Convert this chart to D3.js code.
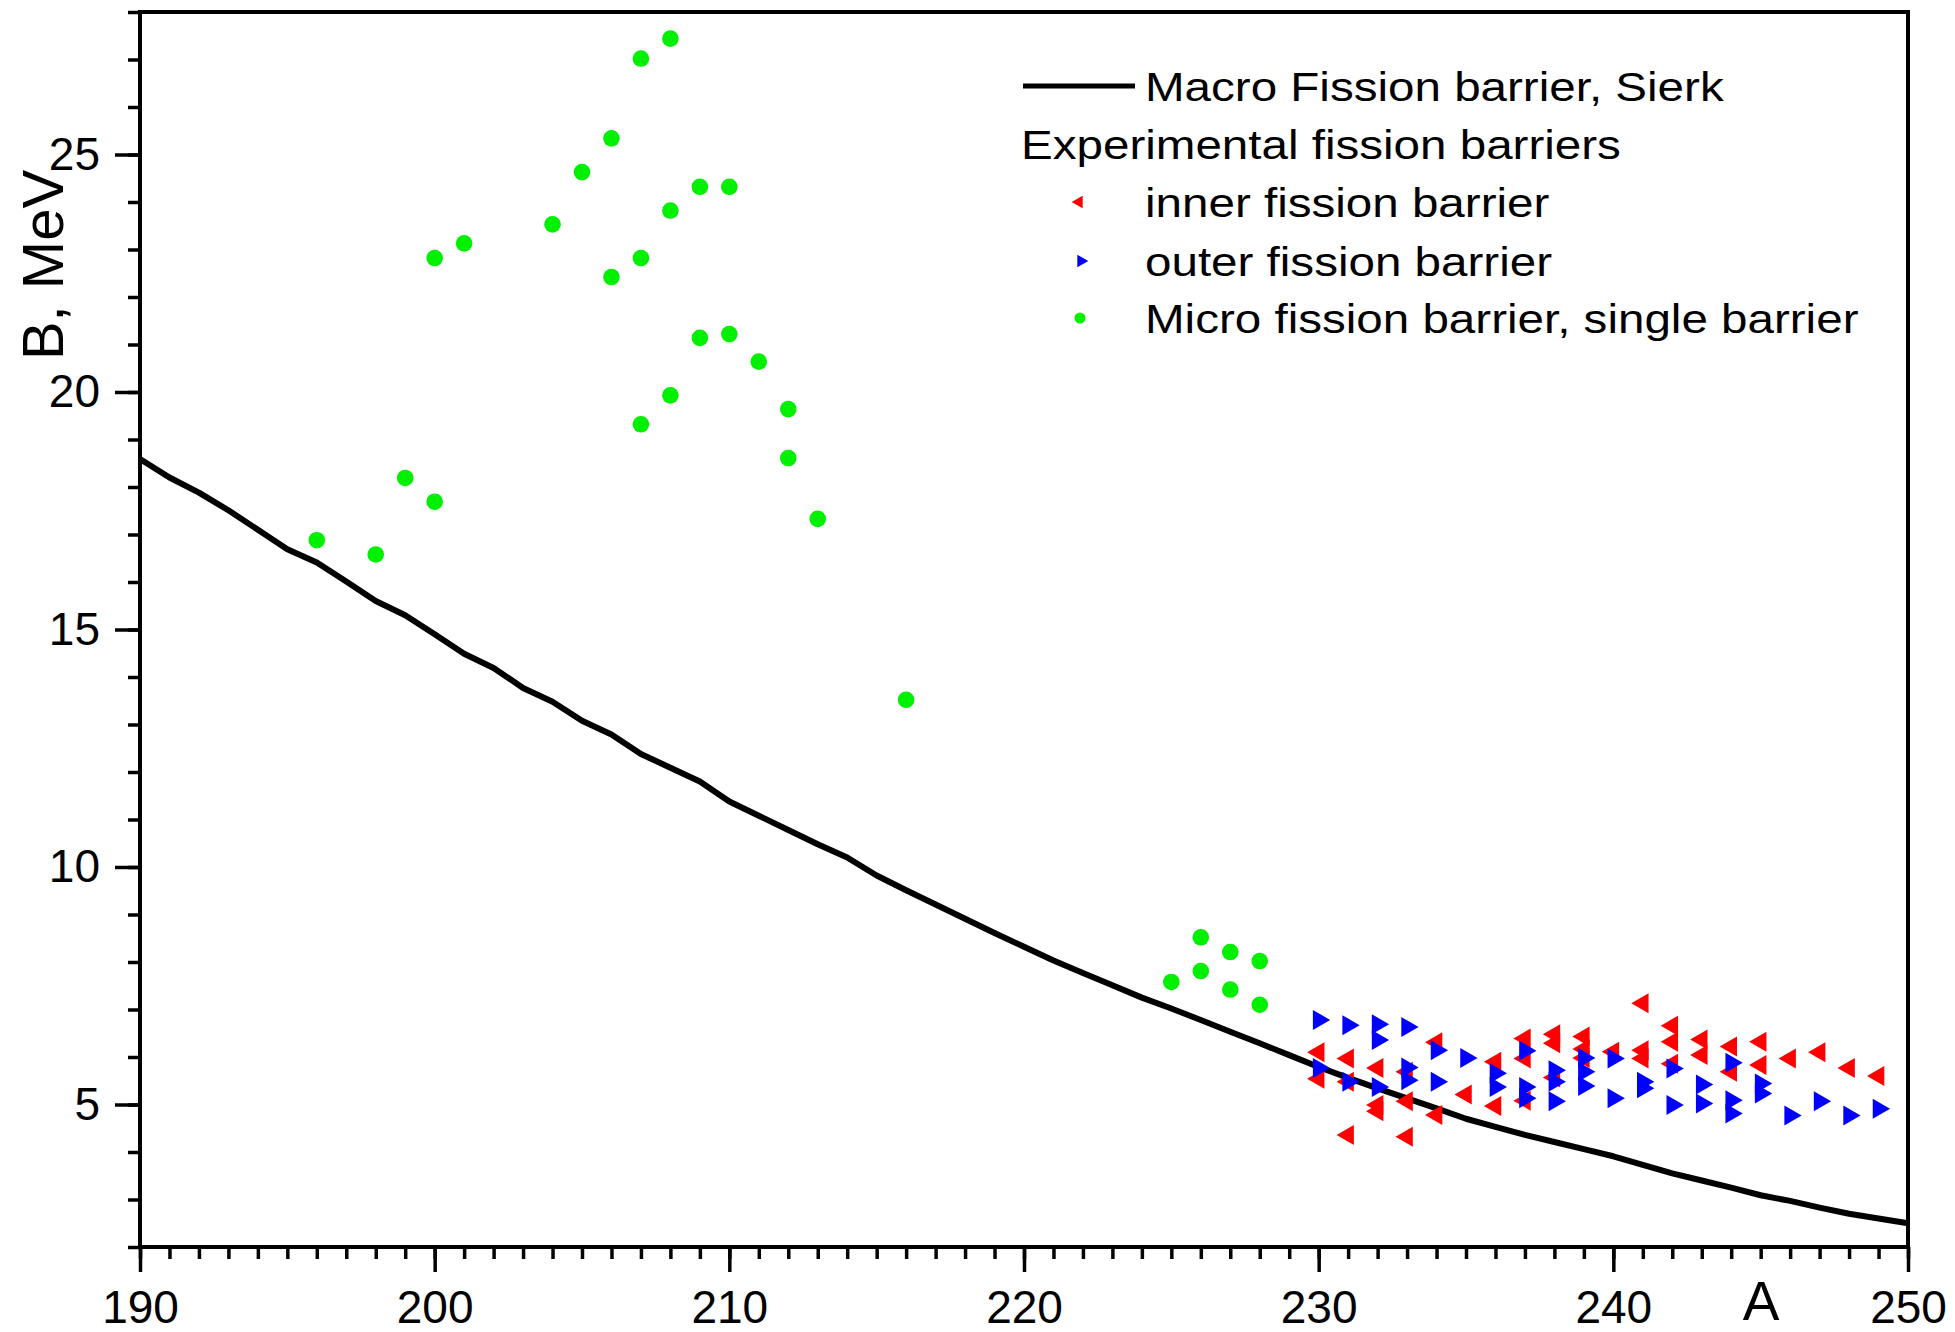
<!DOCTYPE html>
<html>
<head>
<meta charset="utf-8">
<script src="https://cdn.jsdelivr.net/npm/d3@7"></script>
<style>
  html, body { margin: 0; padding: 0; background: #fff; }
  svg { display: block; font-family: "Liberation Sans", Arial, Helvetica, sans-serif; }
</style>
</head>
<body>
<svg id="chart" width="1955" height="1332"></svg>
<script>
// Macroscopic fission barrier (Sierk), B in MeV vs mass number A
const macroBarrier = [
  [190, 18.59], [191, 18.20], [192, 17.88], [193, 17.51], [194, 17.10], [195, 16.69],
  [196, 16.41], [197, 16.01], [198, 15.60], [199, 15.30], [200, 14.90], [201, 14.49],
  [202, 14.19], [203, 13.77], [204, 13.48], [205, 13.08], [206, 12.79], [207, 12.38],
  [208, 12.09], [209, 11.80], [210, 11.38], [211, 11.08], [212, 10.78], [213, 10.48],
  [214, 10.20], [215, 9.82], [216, 9.51], [217, 9.21], [218, 8.91], [219, 8.61],
  [220, 8.32], [221, 8.03], [222, 7.77], [223, 7.51], [224, 7.25], [225, 7.02],
  [226, 6.78], [227, 6.53], [228, 6.29], [229, 6.04], [230, 5.79], [231, 5.56],
  [232, 5.34], [233, 5.13], [234, 4.92], [235, 4.70], [236, 4.53], [237, 4.36],
  [238, 4.21], [239, 4.06], [240, 3.91], [241, 3.73], [242, 3.55], [243, 3.40],
  [244, 3.25], [245, 3.09], [246, 2.97], [247, 2.83], [248, 2.70], [249, 2.60],
  [250, 2.50]
];

// Microscopic single-humped barriers
const microA = [196, 198, 199, 200, 200, 201, 204, 205, 206, 206, 207, 207, 207, 208, 208, 208,
                209, 209, 210, 210, 211, 212, 212, 213, 216, 225, 226, 226, 227, 227, 228, 228];
const microB = [16.88, 16.58, 18.19, 17.69, 22.82, 23.13, 23.53, 24.63, 25.34, 22.42, 27.02, 22.82,
                19.32, 27.44, 23.82, 19.93, 24.32, 21.14, 24.32, 21.22, 20.64, 19.64, 18.61, 17.33,
                13.52, 7.58, 8.52, 7.81, 8.21, 7.42, 8.02, 7.10];

// Experimental inner barriers
const innerA = [230, 230, 231, 231, 231, 232, 232, 232, 233, 233, 233, 234, 234, 235, 236, 236,
                237, 237, 237, 238, 238, 238, 239, 239, 239, 240, 241, 241, 241, 242, 242, 242,
                243, 243, 244, 244, 245, 245, 246, 247, 248, 249];
const innerB = [6.10, 5.54, 5.97, 5.48, 4.36, 5.77, 4.99, 4.86, 5.69, 5.07, 4.32, 6.31, 4.78, 5.21, 5.90, 4.97,
                6.39, 5.97, 5.08, 6.48, 6.29, 5.57, 6.43, 6.17, 5.98, 6.11, 7.13, 6.14, 5.97, 6.66, 6.32, 5.86,
                6.37, 6.04, 6.22, 5.69, 6.32, 5.83, 5.97, 6.10, 5.77, 5.60];

// Experimental outer barriers
const outerA = [230, 230, 231, 231, 232, 232, 232, 233, 233, 233, 234, 234, 235, 236, 236,
                237, 237, 237, 238, 238, 238, 239, 239, 239, 240, 240, 241, 241, 242, 242,
                243, 243, 244, 244, 244, 245, 245, 246, 247, 248, 249];
const outerB = [6.78, 5.77, 6.67, 5.48, 6.69, 6.36, 5.37, 6.63, 5.78, 5.51, 6.14, 5.48, 5.98, 5.66, 5.37,
                6.13, 5.37, 5.13, 5.72, 5.48, 5.07, 5.98, 5.69, 5.39, 5.97, 5.13, 5.48, 5.34, 5.76, 4.99,
                5.42, 5.02, 5.88, 5.09, 4.81, 5.44, 5.23, 4.77, 5.07, 4.77, 4.91];

const xMajorTicks = [190, 200, 210, 220, 230, 240, 250];
const yMajorTicks = [5, 10, 15, 20, 25];

const legendItems = [
  { kind: "line",  label: "Macro Fission barrier, Sierk" },
  { kind: "title", label: "Experimental fission barriers" },
  { kind: "inner", label: "inner fission barrier" },
  { kind: "outer", label: "outer fission barrier" },
  { kind: "micro", label: "Micro fission barrier, single barrier" }
];

const svg = d3.select("#chart");
const W = 1955, H = 1332;
const plot = { left: 140, right: 1908, top: 12, bottom: 1247 };

svg.append("rect").attr("width", W).attr("height", H).attr("fill", "#fff");

const x = d3.scaleLinear().domain([190, 250]).range([plot.left, plot.right]);
const y = d3.scaleLinear().domain([2, 28]).range([plot.bottom, plot.top]);

const RED = "#ff0000", BLUE = "#0000ff", GREEN = "#00f000";

// ---- axes ----
const xMinor = d3.axisBottom(x).ticks(60).tickSize(12).tickSizeOuter(0).tickFormat("");
const xMajor = d3.axisBottom(x).tickValues(xMajorTicks).tickSize(25).tickSizeOuter(0).tickPadding(18).tickFormat(d3.format("d"));
const yMinor = d3.axisLeft(y).ticks(26).tickSize(12).tickSizeOuter(0).tickFormat("");
const yMajor = d3.axisLeft(y).tickValues(yMajorTicks).tickSize(25).tickSizeOuter(0).tickPadding(15).tickFormat(d3.format("d"));

function styleAxis(g) {
  g.select(".domain").remove();
  g.selectAll(".tick line").attr("stroke", "#000").attr("stroke-width", 3.5);
  g.selectAll(".tick text").attr("fill", "#000").style("font-size", "46px")
    .style("font-family", "'Liberation Sans', Arial, sans-serif");
}

svg.append("g").attr("transform", `translate(0,${plot.bottom})`).call(xMinor).call(styleAxis);
svg.append("g").attr("transform", `translate(0,${plot.bottom})`).call(xMajor).call(styleAxis);
svg.append("g").attr("transform", `translate(${plot.left},0)`).call(yMinor).call(styleAxis);
svg.append("g").attr("transform", `translate(${plot.left},0)`).call(yMajor).call(styleAxis);

// ---- macroscopic curve ----
const line = d3.line().x(d => x(d[0])).y(d => y(d[1]));
svg.append("path")
  .datum(macroBarrier)
  .attr("d", line)
  .attr("fill", "none")
  .attr("stroke", "#000")
  .attr("stroke-width", 6)
  .attr("stroke-linejoin", "round");

// ---- markers ----
const triSize = 173;
const tri = d3.symbol().type(d3.symbolTriangle).size(triSize);

svg.append("g").selectAll("circle")
  .data(microA.map((a, i) => [a, microB[i]]))
  .join("circle")
  .attr("cx", d => x(d[0])).attr("cy", d => y(d[1]))
  .attr("r", 8.3).attr("fill", GREEN);

svg.append("g").selectAll("path")
  .data(innerA.map((a, i) => [a, innerB[i]]))
  .join("path")
  .attr("d", tri)
  .attr("transform", d => `translate(${x(d[0])},${y(d[1])}) rotate(-90)`)
  .attr("fill", RED);

svg.append("g").selectAll("path")
  .data(outerA.map((a, i) => [a, outerB[i]]))
  .join("path")
  .attr("d", tri)
  .attr("transform", d => `translate(${x(d[0])},${y(d[1])}) rotate(90)`)
  .attr("fill", BLUE);

// ---- frame ----
svg.append("rect")
  .attr("x", plot.left).attr("y", plot.top)
  .attr("width", plot.right - plot.left).attr("height", plot.bottom - plot.top)
  .attr("fill", "none").attr("stroke", "#000").attr("stroke-width", 4);

// ---- axis titles ----
svg.append("text")
  .attr("transform", "translate(63,265) rotate(-90)")
  .attr("text-anchor", "middle")
  .style("font-size", "58px")
  .text("B, MeV");

svg.append("text")
  .attr("x", 1761).attr("y", 1320)
  .attr("text-anchor", "middle")
  .style("font-size", "55px")
  .text("A");

// ---- legend ----
const legend = svg.append("g");
const rowBaselines = [101, 159, 217, 276, 333];
const textX = 1145, titleX = 1021, symX = 1079;
const legendScaleX = 1.16;

legendItems.forEach((item, i) => {
  const base = rowBaselines[i];
  const tx = item.kind === "title" ? titleX : textX;
  legend.append("text")
    .attr("transform", `translate(${tx},${base}) scale(${legendScaleX},1)`)
    .style("font-size", "41px")
    .text(item.label);
  const cy = base - 15;
  if (item.kind === "line") {
    legend.append("line")
      .attr("x1", 1023).attr("x2", 1135).attr("y1", cy).attr("y2", cy)
      .attr("stroke", "#000").attr("stroke-width", 5);
  } else if (item.kind === "inner") {
    legend.append("path")
      .attr("d", d3.symbol().type(d3.symbolTriangle).size(70)())
      .attr("transform", `translate(${symX},${cy}) rotate(-90)`)
      .attr("fill", RED);
  } else if (item.kind === "outer") {
    legend.append("path")
      .attr("d", d3.symbol().type(d3.symbolTriangle).size(70)())
      .attr("transform", `translate(${symX + 2},${cy}) rotate(90)`)
      .attr("fill", BLUE);
  } else if (item.kind === "micro") {
    legend.append("circle")
      .attr("cx", symX + 1).attr("cy", cy).attr("r", 5.5)
      .attr("fill", GREEN);
  }
});
</script>
</body>
</html>
